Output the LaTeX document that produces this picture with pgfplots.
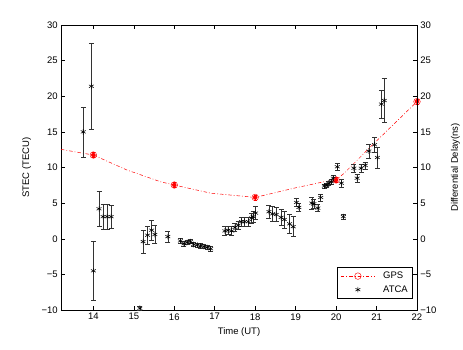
\documentclass[border=0pt]{standalone}
\usepackage{pgfplots}
\pgfplotsset{compat=1.18}
\usepackage{fontspec}
\setmainfont{Liberation Sans}
\pgfplotstableread{
x y e
13.75 15.0 3.5
13.95 21.4 6.0
14.00 -4.5 4.2
14.14 4.2 2.5
14.24 3.1 1.7
14.34 3.1 1.7
14.44 3.1 1.6
15.15 -9.75 0.3
15.23 -0.4 1.6
15.34 0.5 1.3
15.44 1.2 1.4
15.52 0.6 1.3
15.84 0.3 0.8
16.15 -0.3 0.4
16.24 -0.7 0.4
16.32 -0.5 0.3
16.40 -0.4 0.3
16.48 -0.8 0.3
16.57 -0.9 0.3
16.65 -1.0 0.3
16.73 -1.1 0.3
16.81 -1.2 0.3
16.90 -1.4 0.3
17.25 1.1 0.6
17.33 1.2 0.6
17.42 1.1 0.6
17.50 1.6 0.6
17.58 1.9 0.6
17.66 2.4 0.6
17.74 2.4 0.6
17.83 2.4 0.6
17.91 2.9 0.7
17.95 3.1 0.8
18.01 3.6 0.9
18.34 3.8 0.9
18.43 3.5 1.0
18.52 3.4 1.0
18.64 3.0 1.1
18.72 2.7 1.2
18.85 2.1 1.3
18.94 1.7 1.4
19.02 5.1 0.6
19.08 4.4 0.6
19.40 5.0 0.8
19.45 4.9 0.6
19.55 4.3 0.5
19.62 5.8 0.5
19.71 7.4 0.3
19.77 7.5 0.3
19.82 7.8 0.3
19.88 8.0 0.3
19.93 8.5 0.4
20.03 10.1 0.5
20.13 7.8 0.6
20.18 3.1 0.3
20.44 9.9 0.6
20.52 8.5 0.5
20.62 9.9 0.5
20.72 10.3 0.5
20.81 12.3 1.0
20.95 13.2 1.0
21.02 11.4 1.5
21.12 18.9 2.0
21.19 19.4 3.1
}\atcatable
\pgfplotstableread{
x y e
14 11.75 0.35
16 7.54 0.35
18 5.8 0.35
20 8.25 0.35
22 19.25 0.35
}\gpsmarks
\begin{document}
\fontsize{9.5}{11}\selectfont
\begin{tikzpicture}[x=1pt,y=1pt]
\path[use as bounding box] (-61,-39) rectangle (402,310);
\begin{axis}[
  at={(0,0)}, anchor=south west, scale only axis,
  width=356pt, height=285pt,
  xmin=13.2, xmax=22, ymin=-10, ymax=30,
  xtick={14,15,...,22},
  ytick={-10,-5,...,30},
  yticklabels={−10,−5,0,5,10,15,20,25,30},
  tick align=inside, xtick pos=both, ytick pos=both,
  yticklabel pos=left, xticklabel pos=left,
  major tick length=4pt,
  /pgf/number format/assume math mode=true,
  tick label style={font=\fontsize{9.5}{11}\selectfont},
  label style={font=\fontsize{9.5}{11}\selectfont},
  xlabel={Time (UT)}, ylabel={STEC (TECU)},
  xlabel shift=1pt, ylabel shift=4pt,
  axis line style={black, line width=0.6pt},
  tick style={black, line width=0.5pt},
  clip=false,
  legend style={at={(0.989,0.0386)}, anchor=south east, draw=black,
    line width=0.6pt, font=\fontsize{9.5}{11}\selectfont,
    legend cell align=left, inner xsep=3pt, inner ysep=3pt, row sep=1.5pt,
    /tikz/every odd column/.append style={column sep=6pt}},
  legend image code/.code={%
    \draw[mark repeat=2,mark phase=2,#1] plot coordinates {(0pt,0pt) (17pt,0pt) (34pt,0pt)};},
]
\addplot[red, dash pattern=on 3.5pt off 2pt on 0.8pt off 2pt, line width=0.5pt,
  mark=o, mark size=3.3pt, mark options={solid, line width=0.45pt},
  mark indices={2,5,7,10,14}] coordinates {
  (13.2,12.55) (14,11.75) (14.83,9.65) (15.66,8.0) (16,7.54) (16.9,6.4)
  (18,5.8) (18.96,7.1) (19.7,8.0) (20,8.25) (20.2,9.2) (20.57,11.3)
  (20.77,12.46) (22,19.25)};
\addlegendentry{GPS}
\addplot[black, only marks, mark=asterisk, mark size=2.8pt, line width=0.55pt,
  error bars/.cd, y dir=both, y explicit,
  error bar style={black!80, line width=0.5pt},
  error mark options={rotate=90, mark size=2.5pt, black!80, line width=0.5pt}]
  table[x=x, y=y, y error=e] {\atcatable};
\addlegendentry{ATCA}
\addplot[red, only marks, mark=none, forget plot,
  error bars/.cd, y dir=both, y explicit,
  error bar style={red, line width=0.3pt},
  error mark options={rotate=90, mark size=1.5pt, red, line width=0.3pt}]
  table[x=x, y=y, y error=e] {\gpsmarks};
\end{axis}
\begin{axis}[
  at={(0,0)}, anchor=south west, scale only axis,
  width=356pt, height=285pt,
  xmin=13.2, xmax=22, ymin=-10, ymax=30,
  axis x line=none, axis y line*=right,
  ytick={-10,-5,...,30},
  yticklabels={−10,−5,0,5,10,15,20,25,30},
  major tick length=0pt,
  tick label style={font=\fontsize{9.5}{11}\selectfont},
  label style={font=\fontsize{9.5}{11}\selectfont},
  ylabel={Differential Delay(ns)}, ylabel shift=8pt,
  axis line style={black, line width=0.6pt},
]
\end{axis}
\end{tikzpicture}
\end{document}
